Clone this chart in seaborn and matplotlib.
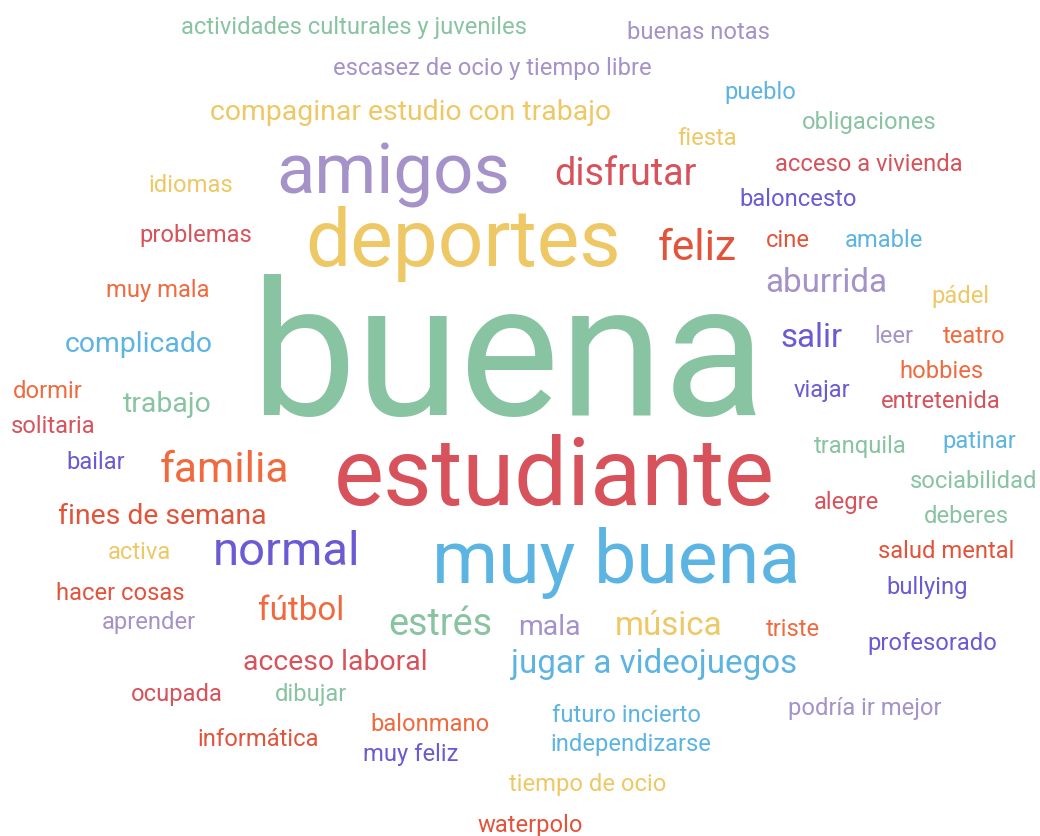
import seaborn as sns
import matplotlib.pyplot as plt

sns.set_theme(style="white")
plt.rcParams["font.family"] = ["Roboto", "DejaVu Sans"]

# words of the cloud and how often each was mentioned
words = [
    "actividades culturales y juveniles", "buenas notas", "escasez de ocio y tiempo libre",
    "pueblo", "compaginar estudio con trabajo", "fiesta", "obligaciones", "amigos",
    "disfrutar", "acceso a vivienda", "idiomas", "baloncesto", "deportes", "problemas",
    "feliz", "cine", "amable", "aburrida", "muy mala", "pádel", "buena", "complicado",
    "salir", "leer", "teatro", "hobbies", "dormir", "viajar", "entretenida", "trabajo",
    "solitaria", "tranquila", "patinar", "bailar", "familia", "estudiante", "sociabilidad",
    "alegre", "fines de semana", "deberes", "activa", "normal", "muy buena", "salud mental",
    "hacer cosas", "bullying", "fútbol", "aprender", "estrés", "mala", "música", "triste",
    "profesorado", "acceso laboral", "jugar a videojuegos", "ocupada", "dibujar",
    "podría ir mejor", "balonmano", "futuro incierto", "informática", "independizarse",
    "muy feliz", "tiempo de ocio", "waterpolo",
]
counts = [
    1, 1, 1,
    1, 2, 1, 1, 11,
    4, 1, 1, 1, 13, 1,
    5, 1, 1, 3, 1, 1, 36, 2,
    3, 1, 1, 1, 1, 1, 1, 2,
    1, 1, 1, 1, 5, 16, 1,
    1, 2, 1, 1, 6, 12, 1,
    1, 1, 3, 1, 4, 2, 3, 1,
    1, 2, 3, 1, 1,
    1, 1, 1, 1, 1,
    1, 1, 1,
]

# layout of the cloud (word centre x, baseline y in pixels) and colour group
xs = [
    354, 698, 492,
    760, 411, 707, 869, 393,
    626, 869, 191, 798, 463, 196,
    697, 788, 884, 826, 158, 960, 508, 139,
    812, 894, 974, 941, 48, 822, 941, 167,
    53, 860, 979, 96, 224, 554, 974,
    846, 162, 966, 139, 287, 616, 946,
    120, 927, 301, 149, 440, 549, 669, 793,
    932, 335, 654, 177, 311,
    865, 430, 626, 258, 631,
    411, 588, 530,
]
ys = [
    34, 39, 75,
    99, 120, 145, 129, 193,
    185, 171, 192, 206, 266, 242,
    260, 247, 247, 292, 297, 303, 415, 352,
    347, 343, 343, 378, 398, 397, 408, 412,
    433, 453, 448, 469, 482, 505, 488,
    509, 524, 523, 559, 565, 583, 558,
    600, 594, 620, 629, 635, 635, 635, 636,
    650, 670, 673, 701, 701,
    715, 731, 722, 746, 751,
    761, 791, 832,
]
groups = [
    "g", "p", "p",
    "b", "y", "y", "g", "p",
    "r", "r", "y", "v", "y", "r",
    "o2", "o2", "b", "p", "o", "y", "g", "b",
    "v", "p", "o", "o", "o", "v", "r", "g",
    "r", "g", "b", "v", "o", "r", "g",
    "r", "o2", "g", "y", "v", "b", "o2",
    "o2", "v", "o", "p", "g", "p", "y", "o",
    "v", "r", "b", "r", "g",
    "p", "o", "b", "o2", "b",
    "v", "y", "o2",
]
palette = {
    "g": "#88c3a2", "y": "#eec865", "p": "#a592c8", "r": "#d7525a",
    "b": "#5cb4e3", "o": "#f06a3e", "o2": "#e2533a", "v": "#6a5ad3",
}

fig, ax = plt.subplots(figsize=(10.4, 8.36), dpi=100)
fig.subplots_adjust(left=0, right=1, bottom=0, top=1)
ax.set_xlim(0, 1040)
ax.set_ylim(836, 0)
ax.axis("off")

for w, c, x, y, g in zip(words, counts, xs, ys, groups):
    size_px = 19 + 4.7 * c
    ax.text(x, y, w, ha="center", va="baseline", color=palette[g],
            fontsize=size_px * 0.72)

plt.savefig("out.png", dpi=100, facecolor="white")
